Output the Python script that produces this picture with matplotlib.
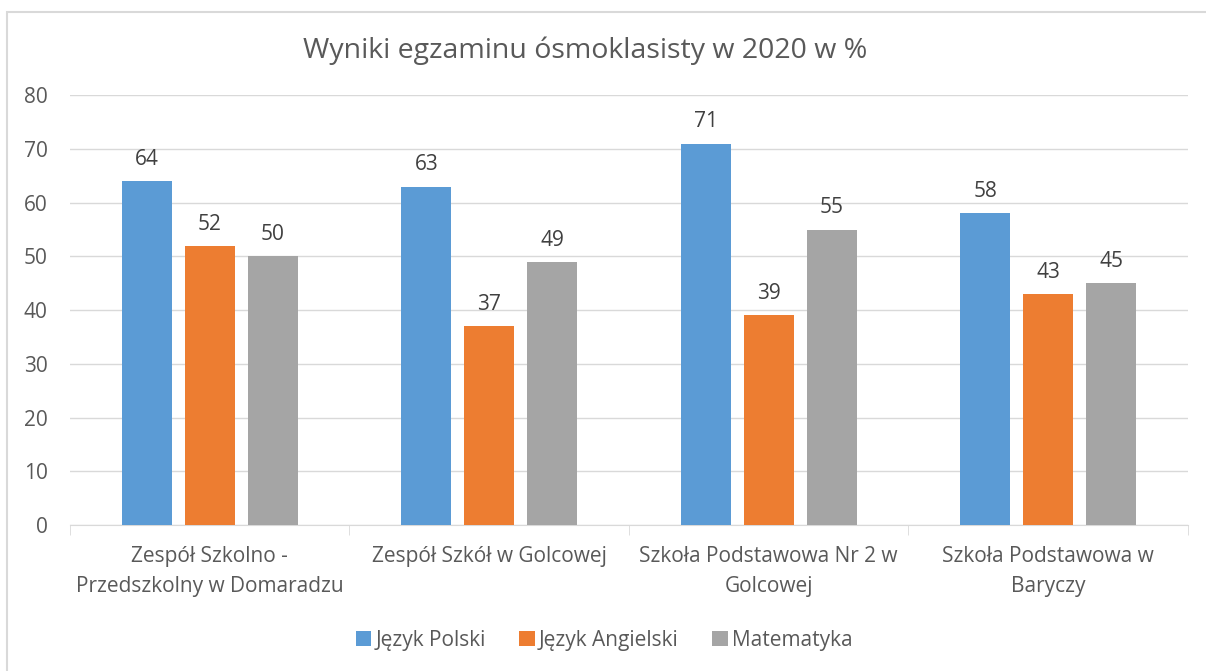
import numpy as np
import matplotlib.pyplot as plt
from matplotlib.patches import Rectangle

plt.rcParams['font.family'] = ['Open Sans', 'DejaVu Sans']

schools = ['Zespół Szkolno -\nPrzedszkolny w Domaradzu', 'Zespół Szkół w Golcowej',
           'Szkoła Podstawowa Nr 2 w\nGolcowej', 'Szkoła Podstawowa w\nBaryczy']
polski = [64, 63, 71, 58]
angielski = [52, 37, 39, 43]
matematyka = [50, 49, 55, 45]
series_names = ['Język Polski', 'Język Angielski', 'Matematyka']
colors = ['#5B9BD5', '#ED7D31', '#A5A5A5']
text_color = '#595959'

fig = plt.figure(figsize=(12.06, 6.71), dpi=100)
ax = fig.add_axes([0.058, 0.2176, 0.927, 0.6405])

x = np.arange(len(schools))
width = 0.179
step = 0.225
for i, (vals, name, c) in enumerate(zip([polski, angielski, matematyka], series_names, colors)):
    pos = x + (i - 1) * step
    bars = ax.bar(pos, vals, width, color=c, label=name, zorder=3)
    for b, v in zip(bars, vals):
        ax.annotate(str(v), (b.get_x() + b.get_width() / 2, v), xytext=(0, 8),
                    textcoords='offset points', ha='center', va='bottom',
                    fontsize=15, color='#404040')

ax.set_xlim(-0.5, 3.5)
ax.set_ylim(0, 80)
ax.set_yticks(range(0, 81, 10))
ax.yaxis.grid(True, color='#D9D9D9', linewidth=1, zorder=0)
ax.set_xticks(x)
ax.set_xticklabels(schools, fontsize=15, color=text_color, linespacing=1.55)
ax.set_xticks(np.arange(-0.5, 4, 1), minor=True)
ax.tick_params(axis='x', which='major', length=0, pad=15)
ax.tick_params(axis='x', which='minor', length=7, color='#D9D9D9')
ax.tick_params(axis='y', length=0, labelsize=15, labelcolor=text_color, pad=16)
for s in ['top', 'right', 'left']:
    ax.spines[s].set_visible(False)
ax.spines['bottom'].set_color('#D9D9D9')

fig.text(585 / 1206, 0.925, 'Wyniki egzaminu ósmoklasisty w 2020 w %', ha='center', va='center',
         fontsize=20.5, color=text_color)

fig.legend(loc='center', bbox_to_anchor=(604 / 1206, 0.046), ncol=3, frameon=False,
           fontsize=15, handlelength=0.75, handleheight=0.75, columnspacing=1.6,
           handletextpad=0.2, labelcolor=text_color)

fig.patches.append(Rectangle((7 / 1206, -0.05), 1.1, 1.05 - 12 / 671, transform=fig.transFigure,
                             fill=False, edgecolor='#D9D9D9', linewidth=1.5, clip_on=False))

fig.savefig('out.png', dpi=100)
